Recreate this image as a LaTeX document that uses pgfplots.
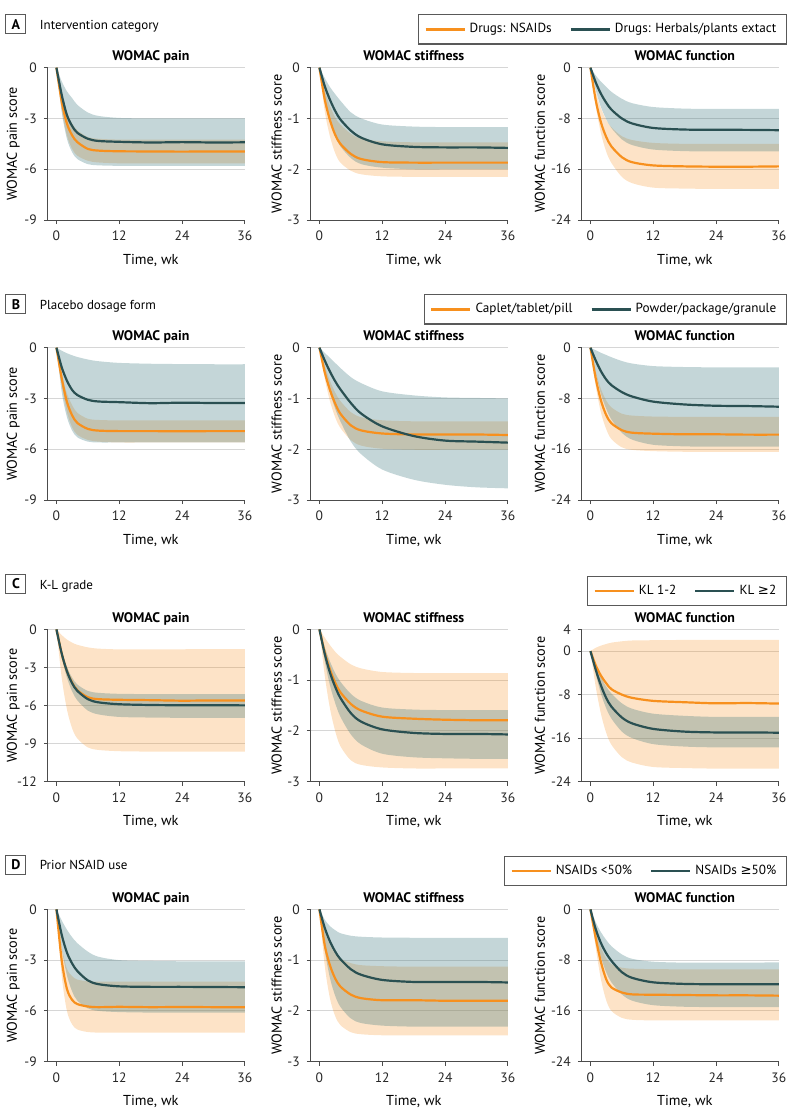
\documentclass[border=0pt]{standalone}
\usepackage{fontspec}
\setmainfont{PT Sans}
\newfontfamily\symfont{DejaVu Sans}
\usepackage{pgfplots}
\pgfplotsset{compat=1.18}
\usepgfplotslibrary{fillbetween}
\usepackage{pgfplotstable}

\definecolor{orng}{HTML}{F7901E}
\definecolor{tealline}{HTML}{2A5052}
\definecolor{tealband}{RGB}{60,120,125}

% columns: t, orange mean, orange lower, orange upper, teal mean, teal lower, teal upper
\pgfplotstableread{
t om olo ohi tm tlo thi
0 0 0 0 0 0 0
1 -2.0 -2.5 -1.5 -1.6 -2.6 -0.8
2 -3.3 -4.0 -2.6 -2.8 -4.2 -1.4
3 -4.0 -4.8 -3.3 -3.45 -5.0 -1.8
4 -4.4 -5.2 -3.7 -3.85 -5.4 -2.2
6 -4.8 -5.5 -4.1 -4.2 -5.7 -2.65
8 -4.9 -5.6 -4.2 -4.33 -5.77 -2.85
12 -4.94 -5.65 -4.25 -4.38 -5.8 -2.97
18 -4.95 -5.65 -4.25 -4.42 -5.8 -3.0
24 -4.96 -5.65 -4.25 -4.40 -5.8 -3.0
30 -4.95 -5.65 -4.25 -4.42 -5.8 -3.0
36 -4.95 -5.65 -4.25 -4.41 -5.8 -3.0
}\Apain
\pgfplotstableread{
t om olo ohi tm tlo thi
0 0 0 0 0 0 0
1 -0.62 -0.85 -0.45 -0.36 -0.6 -0.2
2 -1.03 -1.35 -0.75 -0.63 -1.05 -0.38
3 -1.32 -1.68 -0.98 -0.85 -1.35 -0.52
4 -1.5 -1.87 -1.12 -1.02 -1.55 -0.65
6 -1.7 -2.03 -1.3 -1.24 -1.78 -0.88
8 -1.8 -2.1 -1.4 -1.38 -1.9 -1.0
12 -1.86 -2.14 -1.45 -1.51 -1.97 -1.12
18 -1.87 -2.15 -1.47 -1.56 -2.0 -1.16
24 -1.87 -2.15 -1.47 -1.57 -2.0 -1.17
30 -1.87 -2.15 -1.47 -1.57 -2.0 -1.17
36 -1.87 -2.15 -1.47 -1.58 -2.0 -1.17
}\Astiff
\pgfplotstableread{
t om olo ohi tm tlo thi
0 0 0 0 0 0 0
1 -5.1 -6.0 -3.7 -2.3 -3.5 -1.2
2 -8.6 -10.3 -6.4 -4.1 -6.2 -2.2
3 -10.9 -13.2 -8.2 -5.5 -8.1 -3.0
4 -12.4 -15.0 -9.4 -6.6 -9.5 -3.8
6 -14.1 -17.2 -10.8 -8.0 -11.3 -4.9
8 -14.9 -18.2 -11.4 -8.8 -12.2 -5.6
12 -15.4 -18.9 -11.85 -9.5 -12.9 -6.2
18 -15.55 -19.05 -12.0 -9.75 -13.15 -6.45
24 -15.6 -19.1 -12.0 -9.78 -13.2 -6.5
30 -15.6 -19.1 -12.0 -9.8 -13.2 -6.5
36 -15.55 -19.1 -12.0 -9.85 -13.2 -6.5
}\Afunc
\pgfplotstableread{
t om olo ohi tm tlo thi
0 0 0 0 0 0 0
1 -1.8 -2.2 -1.5 -1.15 -2.6 -0.18
2 -3.2 -3.8 -2.7 -1.95 -4.1 -0.33
3 -4.0 -4.7 -3.4 -2.5 -4.9 -0.45
4 -4.45 -5.15 -3.85 -2.8 -5.3 -0.55
6 -4.8 -5.45 -4.2 -3.08 -5.55 -0.7
8 -4.9 -5.55 -4.27 -3.18 -5.6 -0.8
12 -4.93 -5.6 -4.3 -3.22 -5.6 -0.9
18 -4.93 -5.6 -4.3 -3.28 -5.6 -0.95
24 -4.94 -5.6 -4.3 -3.25 -5.6 -0.97
30 -4.93 -5.6 -4.3 -3.27 -5.6 -0.98
36 -4.93 -5.6 -4.3 -3.27 -5.6 -0.98
}\Bpain
\pgfplotstableread{
t om olo ohi tm tlo thi
0 0 0 0 0 0 0
1 -0.48 -0.6 -0.35 -0.25 -0.5 -0.1
2 -0.83 -1.05 -0.65 -0.47 -0.88 -0.2
3 -1.1 -1.37 -0.88 -0.66 -1.2 -0.3
4 -1.3 -1.58 -1.05 -0.82 -1.45 -0.4
6 -1.53 -1.82 -1.27 -1.09 -1.85 -0.58
8 -1.63 -1.93 -1.37 -1.3 -2.1 -0.7
12 -1.69 -1.99 -1.43 -1.55 -2.4 -0.86
18 -1.71 -2.01 -1.45 -1.74 -2.6 -0.94
24 -1.71 -2.01 -1.45 -1.83 -2.7 -0.98
30 -1.71 -2.01 -1.45 -1.85 -2.75 -0.99
36 -1.72 -2.01 -1.45 -1.87 -2.77 -1.0
}\Bstiff
\pgfplotstableread{
t om olo ohi tm tlo thi
0 0 0 0 0 0 0
1 -4.8 -6.0 -3.7 -2.0 -4.0 -0.4
2 -8.3 -10.2 -6.5 -3.7 -7.3 -0.8
3 -10.6 -12.8 -8.3 -5.0 -9.6 -1.15
4 -11.9 -14.4 -9.4 -5.9 -11.3 -1.5
6 -13.0 -15.7 -10.4 -7.0 -13.4 -2.1
8 -13.4 -16.1 -10.7 -7.7 -14.5 -2.5
12 -13.55 -16.3 -10.85 -8.5 -15.3 -2.9
18 -13.65 -16.4 -10.9 -8.95 -15.55 -3.05
24 -13.65 -16.4 -10.9 -9.15 -15.6 -3.1
30 -13.7 -16.4 -10.9 -9.2 -15.6 -3.1
36 -13.7 -16.4 -10.9 -9.3 -15.6 -3.1
}\Bfunc
\pgfplotstableread{
t om olo ohi tm tlo thi
0 0 0 0 0 0 0
1 -1.9 -3.8 -0.45 -1.9 -2.2 -1.7
2 -3.3 -6.3 -0.8 -3.3 -3.8 -2.95
3 -4.2 -7.8 -1.05 -4.25 -4.9 -3.8
4 -4.8 -8.6 -1.22 -4.85 -5.6 -4.35
6 -5.35 -9.3 -1.42 -5.5 -6.4 -4.85
8 -5.5 -9.5 -1.52 -5.75 -6.7 -5.0
12 -5.55 -9.6 -1.58 -5.9 -6.9 -5.08
18 -5.58 -9.63 -1.58 -5.96 -6.95 -5.1
24 -5.62 -9.64 -1.57 -5.98 -6.97 -5.1
30 -5.6 -9.64 -1.56 -5.98 -6.97 -5.1
36 -5.6 -9.64 -1.55 -5.99 -6.97 -5.1
}\Cpain
\pgfplotstableread{
t om olo ohi tm tlo thi
0 0 0 0 0 0 0
1 -0.45 -0.9 -0.16 -0.48 -0.62 -0.35
2 -0.79 -1.55 -0.31 -0.85 -1.1 -0.63
3 -1.05 -2.0 -0.44 -1.13 -1.45 -0.86
4 -1.24 -2.3 -0.54 -1.35 -1.72 -1.03
6 -1.47 -2.58 -0.69 -1.65 -2.07 -1.27
8 -1.6 -2.67 -0.77 -1.82 -2.27 -1.41
12 -1.72 -2.72 -0.84 -1.97 -2.45 -1.54
18 -1.76 -2.74 -0.86 -2.04 -2.52 -1.58
24 -1.78 -2.74 -0.86 -2.06 -2.54 -1.59
30 -1.79 -2.74 -0.86 -2.06 -2.55 -1.59
36 -1.79 -2.74 -0.86 -2.07 -2.55 -1.59
}\Cstiff
\pgfplotstableread{
t om olo ohi tm tlo thi
0 0 0 0 0 0 0
1 -2.6 -6.5 0.6 -3.4 -4.2 -2.6
2 -4.5 -11.5 1.0 -6.3 -7.8 -4.8
3 -5.9 -15.0 1.3 -8.6 -10.5 -6.5
4 -7.0 -17.2 1.55 -10.2 -12.4 -7.8
6 -8.0 -19.5 1.8 -12.2 -14.8 -9.6
8 -8.6 -20.5 1.95 -13.3 -16.0 -10.6
12 -9.15 -21.3 2.0 -14.3 -17.1 -11.5
18 -9.4 -21.5 2.05 -14.8 -17.55 -11.9
24 -9.6 -21.6 2.05 -14.95 -17.7 -12.1
30 -9.55 -21.6 2.05 -14.95 -17.7 -12.1
36 -9.65 -21.6 2.05 -15.0 -17.7 -12.1
}\Cfunc
\pgfplotstableread{
t om olo ohi tm tlo thi
0 0 0 0 0 0 0
1 -3.0 -3.9 -2.2 -1.5 -2.3 -0.65
2 -4.7 -6.0 -3.5 -2.55 -3.9 -1.2
3 -5.35 -6.8 -3.95 -3.2 -4.85 -1.65
4 -5.6 -7.1 -4.15 -3.65 -5.4 -2.0
6 -5.74 -7.25 -4.25 -4.2 -5.85 -2.5
8 -5.78 -7.28 -4.27 -4.42 -6.0 -2.8
12 -5.76 -7.28 -4.27 -4.55 -6.07 -3.0
18 -5.78 -7.28 -4.27 -4.58 -6.1 -3.05
24 -5.77 -7.28 -4.27 -4.58 -6.1 -3.07
30 -5.78 -7.28 -4.27 -4.59 -6.1 -3.07
36 -5.79 -7.28 -4.27 -4.6 -6.1 -3.07
}\Dpain
\pgfplotstableread{
t om olo ohi tm tlo thi
0 0 0 0 0 0 0
1 -0.7 -1.1 -0.42 -0.36 -0.8 -0.2
2 -1.1 -1.75 -0.7 -0.63 -1.35 -0.33
3 -1.36 -2.1 -0.87 -0.83 -1.7 -0.41
4 -1.52 -2.28 -0.97 -0.98 -1.92 -0.47
6 -1.68 -2.42 -1.06 -1.18 -2.15 -0.52
8 -1.75 -2.46 -1.1 -1.29 -2.24 -0.54
12 -1.79 -2.48 -1.12 -1.39 -2.29 -0.555
18 -1.79 -2.48 -1.13 -1.43 -2.31 -0.56
24 -1.8 -2.48 -1.13 -1.43 -2.31 -0.56
30 -1.8 -2.48 -1.13 -1.43 -2.31 -0.56
36 -1.8 -2.48 -1.13 -1.44 -2.31 -0.56
}\Dstiff
\pgfplotstableread{
t om olo ohi tm tlo thi
0 0 0 0 0 0 0
1 -4.5 -6.0 -3.3 -3.1 -4.2 -2.0
2 -8.3 -11.0 -6.0 -5.3 -7.5 -3.6
3 -11.0 -14.3 -7.7 -6.9 -9.9 -4.8
4 -12.3 -16.0 -8.6 -8.1 -11.5 -5.8
6 -13.1 -17.1 -9.2 -9.9 -13.4 -7.1
8 -13.4 -17.4 -9.35 -10.8 -14.4 -7.8
12 -13.45 -17.5 -9.42 -11.5 -15.1 -8.25
18 -13.5 -17.5 -9.45 -11.75 -15.35 -8.4
24 -13.55 -17.5 -9.45 -11.8 -15.4 -8.4
30 -13.55 -17.5 -9.45 -11.8 -15.4 -8.4
36 -13.6 -17.5 -9.45 -11.8 -15.4 -8.35
}\Dfunc

\pgfplotsset{
  panel/.style={
    anchor=south west,
    scale only axis, width=98.5pt, height=76.17pt,
    xmin=-1.65, xmax=36, xtick={0,12,24,36},
    axis x line*=bottom, axis y line*=left,
    tick align=outside, major tick length=2pt,
    ymajorgrids, grid style={line width=0.5pt, black!16},
    axis line style={line width=0.5pt, black!70},
    every tick/.style={line width=0.5pt, black!70},
    /pgf/number format/assume math mode=true,
    ticklabel style={font=\fontsize{6.8}{8}\selectfont, text=black!85},
    xlabel={Time, wk},
    xlabel style={font=\fontsize{7.2}{8}\selectfont, at={(axis description cs:0.523,0)}, anchor=base, yshift=-22pt},
    title style={font=\bfseries\fontsize{6.95}{8}\selectfont, at={(axis description cs:0.523,1)}, anchor=base, yshift=-2.6pt},
    ylabel style={font=\fontsize{7.1}{8}\selectfont, anchor=center},
    clip=false,
  },
  col1/.style={ylabel style={at={(axis description cs:-0.176,0.5)}}, title={WOMAC pain}, ylabel={WOMAC pain score}},
  col2/.style={ylabel style={at={(axis description cs:-0.173,0.5)}}, title={WOMAC stiffness}, ylabel={WOMAC stiffness score},
     ymin=-3, ymax=0, ytick={-3,-2,-1,0}},
  col3/.style={ylabel style={at={(axis description cs:-0.213,0.5)}}, title={WOMAC function}, ylabel={WOMAC function score},
     ymin=-24, ymax=0, ytick={-24,-16,-8,0},
     legend style={at={(axis description cs:1,1)}, anchor=south east, xshift=4pt, yshift=11.5pt,
       draw=black!65, line width=0.6pt, font=\fontsize{6.6}{8}\selectfont,
       inner xsep=3pt, inner ysep=2.2pt,
       /tikz/every even column/.append style={column sep=7pt}},
     legend columns=2, legend cell align=left,
     legend image code/.code={\draw[##1] (0pt,0pt) -- (19.5pt,0pt);}},
  painax/.style={ymin=-9, ymax=0, ytick={-9,-6,-3,0}},
}

\newcommand{\bands}[1]{%
  \addplot[name path=olo, draw=none, smooth, forget plot] table[x=t,y=olo]{#1};
  \addplot[name path=ohi, draw=none, smooth, forget plot] table[x=t,y=ohi]{#1};
  \addplot[fill=orng, fill opacity=0.25, draw=none, forget plot] fill between[of=olo and ohi];
  \addplot[name path=tlo, draw=none, smooth, forget plot] table[x=t,y=tlo]{#1};
  \addplot[name path=thi, draw=none, smooth, forget plot] table[x=t,y=thi]{#1};
  \addplot[fill=tealband, fill opacity=0.3, draw=none, forget plot] fill between[of=tlo and thi];
  \addplot[orng, line width=1.1pt, smooth] table[x=t,y=om]{#1};
  \addplot[tealline, line width=1.1pt, smooth] table[x=t,y=tm]{#1};
}

\newcommand{\header}[2]{%
  \node[draw=black!65, line width=0.5pt, minimum width=10pt, minimum height=9.5pt, inner sep=0pt,
        font=\bfseries\fontsize{7}{8}\selectfont, anchor=north west] at (0.3pt,#1) {#2};
}

\begin{document}
\begin{tikzpicture}
\path (0,0) rectangle (391.5pt,-558pt);

% headers
\header{-7.15pt}{A}
\node[anchor=base west, font=\fontsize{6.5}{8}\selectfont] at (14pt,-14.65pt) {Intervention category};
\header{-147.15pt}{B}
\node[anchor=base west, font=\fontsize{6.5}{8}\selectfont] at (14pt,-154.65pt) {Placebo dosage form};
\header{-287pt}{C}
\node[anchor=base west, font=\fontsize{6.5}{8}\selectfont] at (14pt,-294.5pt) {K-L grade};
\header{-427.5pt}{D}
\node[anchor=base west, font=\fontsize{6.5}{8}\selectfont] at (14pt,-434.65pt) {Prior NSAID use};

% Row A
\begin{axis}[panel, col1, painax, at={(21.5pt,-110pt)}]
\bands{\Apain}
\end{axis}
\begin{axis}[panel, col2, at={(153pt,-110pt)}]
\bands{\Astiff}
\end{axis}
\begin{axis}[panel, col3, at={(288.5pt,-110pt)},
  legend entries={{Drugs: NSAIDs},{Drugs: Herbals/plants extact}}]
\bands{\Afunc}
\end{axis}

% Row B
\begin{axis}[panel, col1, painax, at={(21.5pt,-250pt)}]
\bands{\Bpain}
\end{axis}
\begin{axis}[panel, col2, at={(153pt,-250pt)}]
\bands{\Bstiff}
\end{axis}
\begin{axis}[panel, col3, at={(288.5pt,-250pt)},
  legend entries={{Caplet/tablet/pill},{Powder/package/granule}}]
\bands{\Bfunc}
\end{axis}

% Row C
\begin{axis}[panel, col1, ymin=-12, ymax=0, ytick={-12,-9,-6,-3,0}, at={(21.5pt,-390.83pt)}]
\bands{\Cpain}
\end{axis}
\begin{axis}[panel, col2, at={(153pt,-390.83pt)}]
\bands{\Cstiff}
\end{axis}
\begin{axis}[panel, col3, ymin=-24, ymax=4, ytick={-24,-16,-8,0,4}, at={(288.5pt,-390.83pt)},
  legend entries={{KL 1-2},{KL {\symfont ≥}2}}]
\bands{\Cfunc}
\end{axis}

% Row D
\begin{axis}[panel, col1, painax, at={(21.5pt,-530.83pt)}]
\bands{\Dpain}
\end{axis}
\begin{axis}[panel, col2, at={(153pt,-530.83pt)}]
\bands{\Dstiff}
\end{axis}
\begin{axis}[panel, col3, at={(288.5pt,-530.83pt)},
  legend entries={{NSAIDs <50\%},{NSAIDs {\symfont ≥}50\%}}]
\bands{\Dfunc}
\end{axis}
\end{tikzpicture}
\end{document}
